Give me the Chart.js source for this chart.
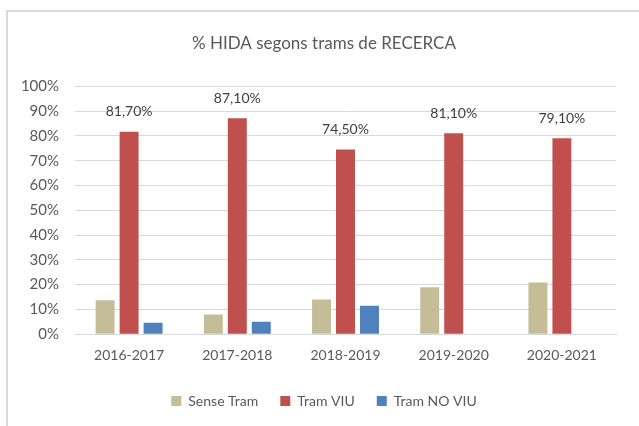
<!DOCTYPE html>
<html>
<head>
<meta charset="utf-8">
<script src="https://cdn.jsdelivr.net/npm/chart.js@4/dist/chart.umd.min.js"></script>
<style>
  html, body { margin: 0; padding: 0; background: #fff; }
  #wrap { position: relative; width: 639px; height: 426px; }
  #frame {
    position: absolute; left: 6px; top: 10px; right: 0; bottom: 0;
    border-left: 2px solid #d9d9d9; border-top: 2px solid #d9d9d9;
  }
  canvas { position: absolute; left: 0; top: 0; }
</style>
</head>
<body>
<div id="wrap">
  <div id="frame"></div>
  <canvas id="chart" width="639" height="426"></canvas>
</div>
<script>
const cursos = ["2016-2017", "2017-2018", "2018-2019", "2019-2020", "2020-2021"];
const senseTram = [13.7, 7.9, 14.0, 18.9, 20.9];
const tramViu = [81.7, 87.1, 74.5, 81.1, 79.1];
const tramNoViu = [4.6, 5.0, 11.5, 0, 0];

const textColor = '#595959';
const fontFamily = 'Lato, "Open Sans", sans-serif';

// value labels above the "Tram VIU" bars, Excel style with a comma
const viuLabels = {
    id: 'viuLabels',
    afterDatasetsDraw(chart) {
        const meta = chart.getDatasetMeta(1);
        const c = chart.ctx;
        c.save();
        c.fillStyle = '#404040';
        c.font = '14px ' + fontFamily;
        c.textAlign = 'center';
        c.textBaseline = 'middle';
        meta.data.forEach((bar, i) => {
            const txt = tramViu[i].toFixed(2).replace('.', ',') + '%';
            c.fillText(txt, bar.x, bar.y - 20);
        });
        c.restore();
    }
};

new Chart(document.getElementById("chart"), {
    type: 'bar',
    data: {
        labels: cursos,
        datasets: [
            { label: 'Sense Tram', data: senseTram, backgroundColor: '#c4bd97' },
            { label: 'Tram VIU', data: tramViu, backgroundColor: '#c0504d' },
            { label: 'Tram NO VIU', data: tramNoViu, backgroundColor: '#4f81bd' }
        ]
    },
    options: {
        responsive: false,
        animation: false,
        categoryPercentage: 0.665,
        barPercentage: 0.79,
        layout: { padding: { left: 22, right: 13, top: 33, bottom: 8 } },
        plugins: {
            title: {
                display: true,
                text: '% HIDA segons trams de RECERCA',
                color: textColor,
                font: { family: fontFamily, size: 17, weight: 'normal' },
                padding: { top: 0, bottom: 33 }
            },
            legend: {
                position: 'bottom',
                labels: {
                    color: textColor,
                    font: { family: fontFamily, size: 14 },
                    boxWidth: 10,
                    boxHeight: 10,
                    padding: 22
                }
            },
            tooltip: { enabled: false }
        },
        scales: {
            x: {
                afterFit(axis) { axis.height += 3; },
                grid: { display: false },
                border: { color: '#d9d9d9' },
                ticks: { color: textColor, font: { family: fontFamily, size: 14 }, padding: 5 }
            },
            y: {
                min: 0,
                max: 100,
                afterFit(axis) { axis.width = 53; },
                grid: { color: '#d9d9d9', drawTicks: false },
                border: { display: false },
                ticks: {
                    stepSize: 10,
                    color: textColor,
                    font: { family: fontFamily, size: 15 },
                    padding: 16,
                    callback: v => v + '%'
                }
            },
            // empty spacer on the right so the plot ends short of the frame
            spacer: {
                type: 'linear',
                position: 'right',
                afterFit(axis) { axis.width = 10; },
                grid: { display: false },
                border: { display: false },
                ticks: { display: false }
            }
        }
    },
    plugins: [viuLabels]
});
</script>
</body>
</html>
